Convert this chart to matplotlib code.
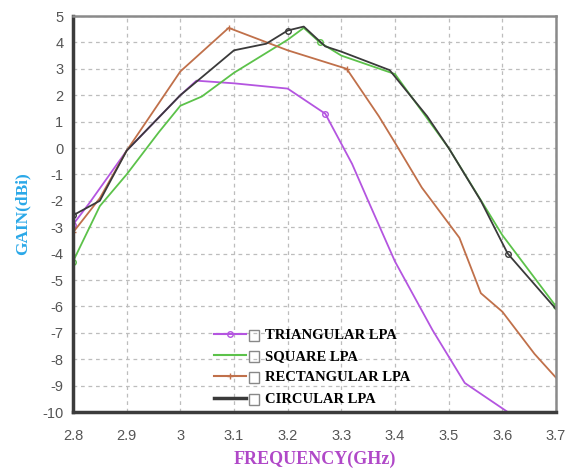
import matplotlib
matplotlib.use("Agg")
import matplotlib.pyplot as plt
from matplotlib.lines import Line2D
from matplotlib.patches import Rectangle

plt.rcParams["axes.unicode_minus"] = False

# --- DATA ---
tri_f = [2.80, 2.83, 2.90, 3.00, 3.03, 3.10, 3.20, 3.27, 3.32, 3.35, 3.40, 3.47, 3.53, 3.57, 3.61]
tri_g = [-2.9, -2.1, -0.1, 2.0, 2.55, 2.45, 2.25, 1.3, -0.6, -2.0, -4.3, -6.9, -8.9, -9.45, -10.0]

sq_f = [2.80, 2.85, 2.90, 2.96, 3.00, 3.04, 3.10, 3.20, 3.23, 3.26, 3.30, 3.40, 3.50, 3.60, 3.70]
sq_g = [-4.3, -2.2, -1.0, 0.6, 1.6, 1.95, 2.85, 4.1, 4.55, 4.0, 3.5, 2.8, 0.0, -3.3, -6.0]

rect_f = [2.80, 2.85, 2.90, 3.00, 3.09, 3.20, 3.31, 3.37, 3.40, 3.45, 3.52, 3.56, 3.60, 3.66, 3.70]
rect_g = [-3.2, -1.9, -0.1, 2.9, 4.55, 3.7, 3.0, 1.2, 0.2, -1.5, -3.4, -5.5, -6.2, -7.8, -8.7]

circ_f = [2.80, 2.85, 2.90, 3.00, 3.10, 3.16, 3.20, 3.23, 3.27, 3.30, 3.39, 3.46, 3.50, 3.56, 3.61, 3.70]
circ_g = [-2.55, -2.0, -0.1, 2.0, 3.7, 3.95, 4.45, 4.6, 3.85, 3.65, 2.95, 1.2, 0.0, -2.0, -4.0, -6.1]

x_ticks = [2.8, 2.9, 3.0, 3.1, 3.2, 3.3, 3.4, 3.5, 3.6, 3.7]
x_tick_labels = ["2.8", "2.9", "3", "3.1", "3.2", "3.3", "3.4", "3.5", "3.6", "3.7"]
y_ticks = list(range(-10, 6))

labels = ["TRIANGULAR LPA", "SQUARE LPA", "RECTANGULAR LPA", "CIRCULAR LPA"]
colors = ["#b455e0", "#5cc24a", "#c0704a", "#3a3a3a"]

fig = plt.figure(figsize=(5.72, 4.71), dpi=100)
ax = fig.add_axes([73 / 572, 1 - 412 / 471, (556 - 73) / 572, (412 - 16) / 471])

ax.plot(tri_f, tri_g, color=colors[0], lw=1.3, marker="o", ms=4, mfc="none",
        markevery=[0, 7])
ax.plot(sq_f, sq_g, color=colors[1], lw=1.3, marker="o", ms=4, mfc="none",
        markevery=[0, 9, 14])
ax.plot(rect_f, rect_g, color=colors[2], lw=1.3, marker="+", ms=5,
        markevery=[0, 4, 6])
ax.plot(circ_f, circ_g, color=colors[3], lw=1.3, marker="o", ms=4, mfc="none",
        markevery=[0, 6, 14])

ax.set_xlim(2.8, 3.7)
ax.set_ylim(-10, 5)
ax.set_xticks(x_ticks)
ax.set_xticklabels(x_tick_labels)
ax.set_yticks(y_ticks)
ax.grid(True, color="#bdbdbd", linestyle=(0, (3, 3)), lw=0.9)

for s in ["left", "bottom"]:
    ax.spines[s].set_color("#3c3c3c")
    ax.spines[s].set_linewidth(2.5)
for s in ["top", "right"]:
    ax.spines[s].set_color("#8a8a8a")
    ax.spines[s].set_linewidth(1.8)

ax.tick_params(length=0, labelsize=10.5, labelcolor="#555555")
ax.tick_params(axis="x", pad=12)
ax.tick_params(axis="y", pad=7)
for lab in ax.get_xticklabels() + ax.get_yticklabels():
    lab.set_family("Liberation Sans")

ax.set_xlabel("FREQUENCY(GHz)", family="Liberation Serif", fontweight="bold",
              fontsize=13, color="#b048c8", labelpad=6)
ax.set_ylabel("GAIN(dBi)", family="Liberation Serif", fontweight="bold",
              fontsize=12.5, color="#2aa8e8", labelpad=8)

# legend: line sample, small checkbox, label
handles = [
    Line2D([], [], color=colors[0], lw=1.5, marker="o", ms=4, mfc="none", markevery=[1]),
    Line2D([], [], color=colors[1], lw=1.5),
    Line2D([], [], color=colors[2], lw=1.5, marker="+", ms=5, markevery=[1]),
    Line2D([], [], color=colors[3], lw=2.5),
]
leg = ax.legend(handles, labels, loc="upper left", bbox_to_anchor=(0.28, 0.225),
                frameon=False, handlelength=2.2, handletextpad=1.3,
                labelspacing=0.55, borderaxespad=0,
                prop={"family": "Liberation Serif", "weight": "bold", "size": 10.5})
fig.canvas.draw()
for txt in leg.get_texts():
    bb = txt.get_window_extent()
    fig.add_artist(Rectangle(((bb.x0 - 16) / 572, (bb.y0 + 1) / 471), 10 / 572, 11 / 471,
                             transform=fig.transFigure, fill=False,
                             ec="#888888", lw=1.0))

fig.savefig("out.png", dpi=100)
